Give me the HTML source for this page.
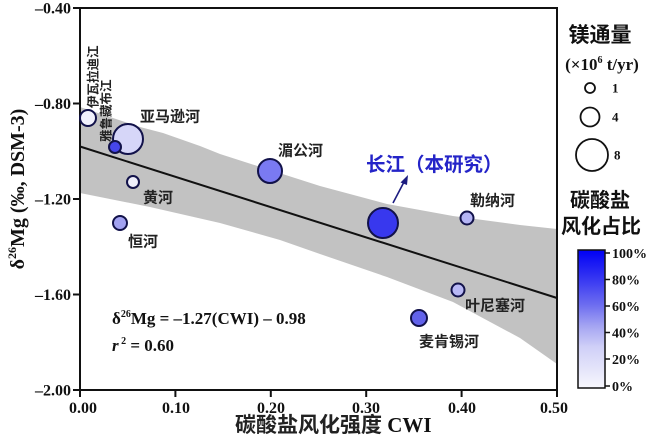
<!DOCTYPE html>
<html><head><meta charset="utf-8"><style>
html,body{margin:0;padding:0;background:#fff;}
svg{display:block;}
.t{font-family:"Liberation Serif",serif;font-weight:bold;fill:#111;}
.c{font-family:"Liberation Sans","Noto Sans CJK SC",sans-serif;font-weight:bold;fill:#222;}
</style></head><body>
<svg width="650" height="440" viewBox="0 0 650 440" xmlns="http://www.w3.org/2000/svg">
<defs>
<linearGradient id="cb" x1="0" y1="0" x2="0" y2="1">
<stop offset="0" stop-color="#0000f5"/>
<stop offset="0.2" stop-color="#3434f2"/>
<stop offset="0.4" stop-color="#6e6ef0"/>
<stop offset="0.55" stop-color="#a4a4f2"/>
<stop offset="0.7" stop-color="#cfcff7"/>
<stop offset="1" stop-color="#f7f7fd"/>
</linearGradient>
</defs>
<!-- band -->
<polygon fill="#c2c2c2" points="80,107 113,118 140,127 163,133 200,146 220,154 270,170 320,186 387,204 453,216 520,225 557,229 557,364 520,338 453,302 387,277 320,254 280,240 220,223 150,207 80,193"/>
<!-- regression -->
<line x1="80" y1="146.5" x2="557" y2="298" stroke="#111" stroke-width="2"/>
<!-- frame -->
<rect x="80" y="8" width="477" height="382" fill="none" stroke="#111" stroke-width="2"/>
<!-- y ticks -->
<g stroke="#111" stroke-width="2">
<line x1="73" y1="8" x2="80" y2="8"/><line x1="73" y1="103.5" x2="80" y2="103.5"/><line x1="73" y1="199" x2="80" y2="199"/><line x1="73" y1="294.5" x2="80" y2="294.5"/><line x1="73" y1="390" x2="80" y2="390"/>
<line x1="80" y1="390" x2="80" y2="397"/><line x1="175.4" y1="390" x2="175.4" y2="397"/><line x1="270.8" y1="390" x2="270.8" y2="397"/><line x1="366.2" y1="390" x2="366.2" y2="397"/><line x1="461.6" y1="390" x2="461.6" y2="397"/><line x1="557" y1="390" x2="557" y2="397"/>
</g>
<g class="t" font-size="16" text-anchor="end">
<text x="71" y="13.5">–0.40</text><text x="71" y="109">–0.80</text><text x="71" y="204.5">–1.20</text><text x="71" y="300">–1.60</text><text x="71" y="395.5">–2.00</text>
</g>
<g class="t" font-size="16" text-anchor="middle">
<text x="83" y="413">0.00</text><text x="176" y="413">0.10</text><text x="271" y="413">0.20</text><text x="366" y="413">0.30</text><text x="462" y="413">0.40</text><text x="554" y="413">0.50</text>
</g>
<!-- axis titles -->
<text x="235" y="432" font-size="21"><tspan class="c" fill="#111">碳酸盐风化强度</tspan><tspan class="t"> CWI</tspan></text>
<text class="t" font-size="20" text-anchor="middle" transform="translate(24,189) rotate(-90)">δ<tspan font-size="12" dy="-8">26</tspan><tspan dy="8">Mg (‰, DSM-3)</tspan></text>
<!-- points -->
<g stroke="#12124a" stroke-width="2">
<circle cx="88" cy="118" r="8" fill="#f2f2fd"/>
<circle cx="128" cy="139" r="15" fill="#d6d6f8"/>
<circle cx="115" cy="147" r="6" fill="#4646ea"/>
<circle cx="133" cy="182" r="6" fill="#eeeefb"/>
<circle cx="120" cy="223" r="7" fill="#a2a2f1"/>
<circle cx="270" cy="171" r="12" fill="#7a7af2"/>
<circle cx="383" cy="223" r="15" fill="#3838ee"/>
<circle cx="467" cy="218" r="6.5" fill="#b5b5f5"/>
<circle cx="458" cy="290" r="6.5" fill="#b8b8f5"/>
<circle cx="419" cy="318" r="8" fill="#6262ea"/>
</g>
<!-- labels -->
<g class="c" font-size="15">
<text x="140" y="121.5">亚马逊河</text>
<text x="143" y="202.5">黄河</text>
<text x="128" y="246.5">恒河</text>
<text x="278" y="155.5">湄公河</text>
<text x="470" y="205.5">勒纳河</text>
<text x="465" y="310.5">叶尼塞河</text>
<text x="419" y="346.5">麦肯锡河</text>
</g>
<text class="c" font-size="12.5" transform="translate(97.5,108) rotate(-90)">伊瓦拉迪江</text>
<text class="c" font-size="12.5" transform="translate(110.5,142) rotate(-90)">雅鲁藏布江</text>
<text class="c" font-size="19.5" x="366" y="171" style="fill:#2424c8">长江（本研究）</text>
<line x1="393" y1="203" x2="404" y2="182" stroke="#1c1c80" stroke-width="1.6"/>
<polygon points="408,175 400.5,182.5 407,185" fill="#1c1c80"/>
<!-- equation -->
<text class="t" font-size="17" x="112" y="324">δ<tspan font-size="10" dy="-7">26</tspan><tspan dy="7">Mg = –1.27(CWI) – 0.98</tspan></text>
<text class="t" font-size="17" x="112" y="351"><tspan font-style="italic">r</tspan><tspan font-size="10" dy="-7"> 2</tspan><tspan dy="7"> = 0.60</tspan></text>
<!-- legend -->
<text class="c" font-size="21" x="600" y="42" text-anchor="middle" style="fill:#111">镁通量</text>
<text class="t" font-size="17" x="602" y="70" text-anchor="middle">(×10<tspan font-size="10" dy="-7">6</tspan><tspan dy="7"> t/yr)</tspan></text>
<g fill="#fff" stroke="#111" stroke-width="1.8">
<circle cx="590" cy="88" r="5"/>
<circle cx="590" cy="117" r="9.5"/>
<circle cx="592" cy="155" r="16"/>
</g>
<g class="t" font-size="13">
<text x="612" y="92.5">1</text><text x="612" y="121.5">4</text><text x="614" y="159.5">8</text>
</g>
<text class="c" font-size="20" x="600" y="207" text-anchor="middle" style="fill:#111">碳酸盐</text>
<text class="c" font-size="20" x="601" y="233" text-anchor="middle" style="fill:#111">风化占比</text>
<rect x="578" y="250" width="27" height="138" fill="url(#cb)" stroke="#111" stroke-width="1.5"/>
<g stroke="#111" stroke-width="1.5">
<line x1="605" y1="253" x2="610" y2="253"/><line x1="605" y1="279.5" x2="610" y2="279.5"/><line x1="605" y1="306" x2="610" y2="306"/><line x1="605" y1="332.5" x2="610" y2="332.5"/><line x1="605" y1="359" x2="610" y2="359"/><line x1="605" y1="386" x2="610" y2="386"/>
</g>
<g class="t" font-size="14">
<text x="612" y="258">100%</text><text x="612" y="284.5">80%</text><text x="612" y="311">60%</text><text x="612" y="337.5">40%</text><text x="612" y="364">20%</text><text x="612" y="391">0%</text>
</g>
</svg>
</body></html>
